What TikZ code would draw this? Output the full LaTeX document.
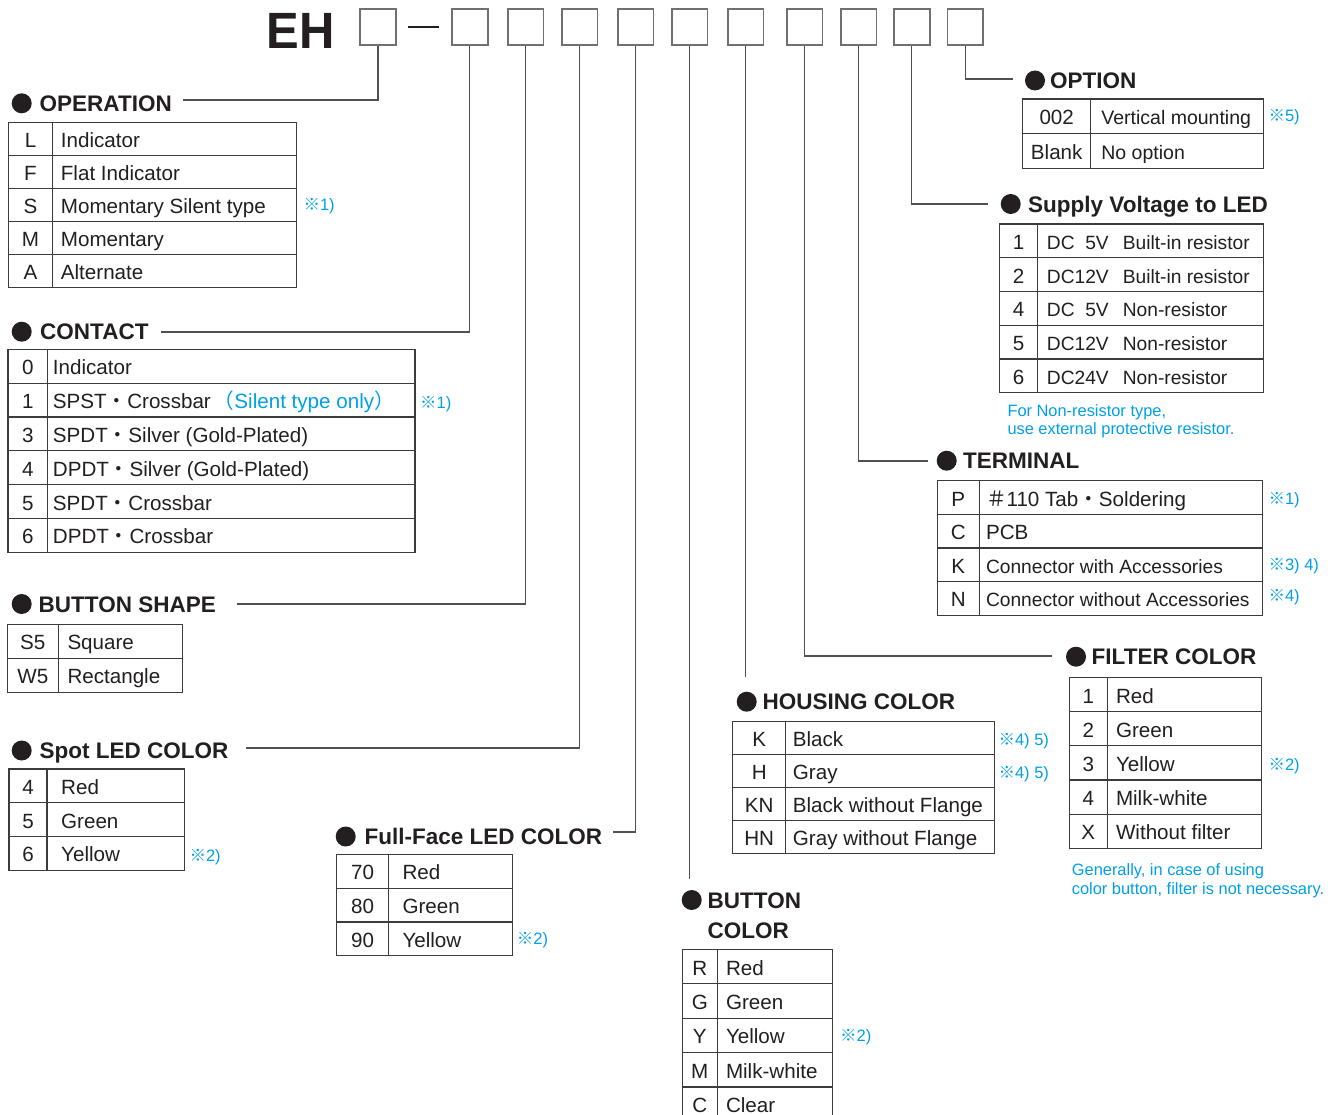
\documentclass[tikz,border=0pt]{standalone}
\usepackage{fontspec}
\setmainfont{Liberation Sans}
\newfontfamily\cjk{Noto Sans CJK JP}
\definecolor{ink}{HTML}{231F20}
\definecolor{note}{HTML}{00A0E9}
\definecolor{rulec}{HTML}{3C3C3C}
\definecolor{boxc}{HTML}{707070}
\definecolor{leadc}{HTML}{505050}
\newcommand\kome{{\cjk ※}}
\newcommand\ndot{{\cjk ・}}
\newcommand\smallcell{\fontsize{19.2}{22}\selectfont}
\tikzset{
  tabline/.style={draw=rulec, line width=1.2pt},
  cell/.style={inner sep=0pt, text=ink, font=\fontsize{20.6}{24}\selectfont},
  hdr/.style={inner sep=0pt, text=ink, font=\fontsize{22.5}{26}\selectfont\bfseries, anchor=base west},
  bul/.style={circle, fill=ink, inner sep=0pt, minimum size=20pt},
  fn/.style={inner sep=0pt, text=note, font=\fontsize{16.5}{20}\selectfont, anchor=base west},
  notetext/.style={inner sep=0pt, text=note, font=\fontsize{16.4}{19}\selectfont, anchor=base west},
  codebox/.style={draw=boxc, line width=1.8pt, minimum width=35.8pt, minimum height=36pt, inner sep=0pt},
  leader/.style={draw=leadc, line width=1.1pt},
  dashbar/.style={draw=ink, line width=2.6pt},
}
% #1 name, #2 left x, #3 divider x, #4 right x, #5 top y, #6 row height, #7 rows, #8 text offset, #9 list
\newcommand\spectab[9]{%
  \pgfmathsetmacro\tbot{#5+#7*#6}
  \draw[tabline] (#2,#5) rectangle (#4,\tbot);
  \draw[tabline] (#3,#5) -- (#3,\tbot);
  \pgfmathtruncatemacro\nn{#7-1}
  \foreach \k in {1,...,\nn}{\draw[tabline] (#2,{#5+\k*#6}) -- (#4,{#5+\k*#6});}
  \foreach \c/\d [count=\i] in {#9}{
    \node[cell, anchor=base] (#1c\i) at ({(#2+#3)/2},{#5+(\i-0.5)*#6+8.6}) {\c};
    \node[cell, anchor=base west] (#1d\i) at ({#3+#8},{#5+(\i-0.5)*#6+8.6}) {\d};
  }
}
\begin{document}
\begin{tikzpicture}[x=1pt,y=-1pt]
\useasboundingbox (0,0) rectangle (1335,1115);
\clip (0,0) rectangle (1335,1115);
\fill[white] (0,0) rectangle (1335,1115);

% ---- part number ----
\node[inner sep=0pt, anchor=base west, text=ink, font=\fontsize{51}{51}\selectfont\bfseries] (eh) at (266.5,48.3) {\scalebox{0.96}[1]{EH}};
\node[codebox] (b1) at (378,27.2) {};
\node[codebox] (b2) at (469.7,27.2) {};
\node[codebox] (b3) at (525.5,27.2) {};
\node[codebox] (b4) at (579.5,27.2) {};
\node[codebox] (b5) at (635.5,27.2) {};
\node[codebox] (b6) at (689.5,27.2) {};
\node[codebox] (b7) at (745.5,27.2) {};
\node[codebox] (b8) at (804.5,27.2) {};
\node[codebox] (b9) at (858.5,27.2) {};
\node[codebox] (b10) at (911.7,27.2) {};
\node[codebox] (b11) at (965.3,27.2) {};
\draw[dashbar] ([xshift=11pt]b1.east) -- ([xshift=-12pt]b2.west);

% ---- headers ----
\node[bul] (hb1) at (21.7,103.3) {};
\node[hdr] (h1) at (39.5,111.4) {OPERATION};
\node[bul] (hb2) at (21.7,331.7) {};
\node[hdr] (h2) at (40,339.8) {CONTACT};
\node[bul] (hb3) at (21.7,604) {};
\node[hdr] (h3) at (38.5,612.1) {BUTTON SHAPE};
\node[bul] (hb4) at (21.7,750.5) {};
\node[hdr] (h4) at (39.5,758.6) {Spot LED COLOR};
\node[bul] (hb5) at (345.7,836.5) {};
\node[hdr] (h5) at (364.5,844.6) {Full-Face LED COLOR};
\node[bul] (hb6) at (691.7,900) {};
\node[hdr] (h6a) at (707.5,908.2) {BUTTON};
\node[hdr] (h6b) at (707.5,938.2) {COLOR};
\node[bul] (hb7) at (746.7,701.7) {};
\node[hdr] (h7) at (762.5,709.8) {HOUSING COLOR};
\node[bul] (hb8) at (1076,656.7) {};
\node[hdr] (h8) at (1091.5,664.8) {FILTER COLOR};
\node[bul] (hb9) at (946.7,460.7) {};
\node[hdr] (h9) at (963,468.8) {TERMINAL};
\node[bul] (hb10) at (1010.7,204) {};
\node[hdr] (h10) at (1028,212.1) {Supply Voltage to LED};
\node[bul] (hb11) at (1035,80.5) {};
\node[hdr] (h11) at (1050,88.6) {OPTION};

% ---- leader lines ----
\coordinate (l1) at (182.7,100);
\coordinate (l2) at (161,332);
\coordinate (l3) at (237,604);
\coordinate (l4) at (246,748);
\coordinate (l5) at (613,832);
\coordinate (l6) at (689.5,879);
\coordinate (l7) at (745.5,677);
\coordinate (l8) at (1052,656);
\coordinate (l9) at (928,461);
\coordinate (l10) at (988,204);
\coordinate (l11) at (1013.3,79);
\draw[leader] (b1.south) |- (l1);
\draw[leader] (b2.south) |- (l2);
\draw[leader] (b3.south) |- (l3);
\draw[leader] (b4.south) |- (l4);
\draw[leader] (b5.south) |- (l5);
\draw[leader] (b6.south) -- (l6);
\draw[leader] (b7.south) -- (l7);
\draw[leader] (b8.south) |- (l8);
\draw[leader] (b9.south) |- (l9);
\draw[leader] (b10.south) |- (l10);
\draw[leader] (b11.south) |- (l11);

% ---- tables ----
\spectab{op}{8.3}{52.7}{296.7}{122.5}{33}{5}{8}{L/Indicator, F/Flat Indicator, S/Momentary Silent type, M/Momentary, A/Alternate}
\spectab{ct}{8}{47.7}{415}{349.3}{33.83}{6}{5}{0/Indicator, 1/{SPST\ndot Crossbar\hspace{3pt}\textcolor{note}{{\cjk （}Silent type only{\cjk ）}}}, 3/SPDT\ndot Silver (Gold-Plated), 4/DPDT\ndot Silver (Gold-Plated), 5/SPDT\ndot Crossbar, 6/DPDT\ndot Crossbar}
\spectab{bs}{7.3}{58.3}{182.7}{624.3}{34}{2}{9}{S5/Square, W5/Rectangle}
\spectab{sp}{9}{47}{184.3}{769}{33.7}{3}{14}{4/Red, 5/Green, 6/Yellow}
\spectab{ff}{336.7}{388.3}{512.3}{854.3}{33.8}{3}{14}{70/Red, 80/Green, 90/Yellow}
\spectab{bc}{682.3}{717.3}{832.7}{949.3}{34.4}{5}{8.5}{R/Red, G/Green, Y/Yellow, M/Milk-white, C/Clear}
\spectab{hc}{732.7}{785.7}{994.3}{721.7}{33}{4}{7}{K/Black, H/Gray, KN/Black without Flange, HN/Gray without Flange}
\spectab{fc}{1069.3}{1107.3}{1261.7}{677.3}{34.2}{5}{8.5}{1/Red, 2/Green, 3/Yellow, 4/Milk-white, X/Without filter}
\spectab{tm}{937.3}{979.3}{1262.7}{480.7}{33.6}{4}{6.5}{P/{{\cjk ＃}110 Tab\ndot Soldering}, C/PCB, K/{\smallcell Connector with Accessories}, N/{\smallcell Connector without Accessories}}
\spectab{sv}{999.3}{1037.7}{1263.3}{224}{33.74}{5}{9}{1/{\smallcell DC\hphantom{1}5V\hspace{14pt}Built-in resistor}, 2/{\smallcell DC12V\hspace{14pt}Built-in resistor}, 4/{\smallcell DC\hphantom{1}5V\hspace{14pt}Non-resistor}, 5/{\smallcell DC12V\hspace{14pt}Non-resistor}, 6/{\smallcell DC24V\hspace{14pt}Non-resistor}}
\spectab{ot}{1022.7}{1090.7}{1263.3}{99}{34.65}{2}{10.5}{002/{\fontsize{19.5}{22}\selectfont Vertical mounting}, Blank/{\fontsize{19.5}{22}\selectfont No option}}

% ---- footnote marks ----
\node[fn] (f1) at (303.3,211) {\kome 1)};
\node[fn] (f2) at (420,408) {\kome 1)};
\node[fn] (f3) at (189.3,861) {\kome 2)};
\node[fn] (f4) at (516.7,944) {\kome 2)};
\node[fn] (f5) at (840,1041.7) {\kome 2)};
\node[fn] (f6) at (998.3,745.3) {\kome 4) 5)};
\node[fn] (f7) at (998.3,778.7) {\kome 4) 5)};
\node[fn] (f8) at (1268.3,770) {\kome 2)};
\node[fn] (f9) at (1268.3,504.3) {\kome 1)};
\node[fn] (f10) at (1268.3,570) {\kome 3) 4)};
\node[fn] (f11) at (1268.3,601) {\kome 4)};
\node[fn] (f12) at (1268.3,122) {\kome 5)};

% ---- notes ----
\node[notetext] (n1) at (1007.3,416) {For Non-resistor type,};
\node[notetext] (n2) at (1007.3,434.5) {use external protective resistor.};
\node[notetext] (n3) at (1071.7,875.5) {Generally, in case of using};
\node[notetext] (n4) at (1071.7,894.5) {color button, filter is not necessary.};
\end{tikzpicture}
\end{document}
